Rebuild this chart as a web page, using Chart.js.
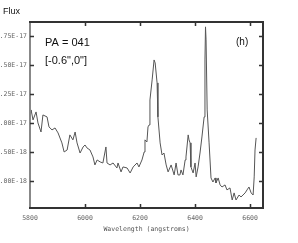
<!DOCTYPE html>
<html>
<head>
<meta charset="utf-8">
<script src="https://cdn.jsdelivr.net/npm/chart.js@4/dist/chart.umd.min.js"></script>
<style>
  html, body { margin: 0; padding: 0; background: #fff; overflow: hidden; }
  #wrap { position: absolute; left: -6px; top: 0; width: 304px; height: 243px; }
</style>
</head>
<body>
<div id="wrap"><canvas id="spec"></canvas></div>
<script>
// Wavelength (angstroms) and flux (in units of 1e-18)
const wavelength = [
  5800, 5804, 5811, 5822, 5829, 5840, 5847, 5862, 5869, 5880,
  5891, 5902, 5916, 5924, 5935, 5945, 5956, 5964, 5971, 5982,
  5993, 6000, 6007, 6018, 6029, 6036, 6044, 6055, 6065, 6076,
  6080, 6091, 6102, 6116, 6120, 6131, 6138, 6153, 6164, 6175,
  6189, 6196, 6207, 6215, 6218, 6225, 6229, 6233, 6236, 6244,
  6251, 6255, 6262, 6265, 6273, 6280, 6287, 6295, 6302, 6313,
  6324, 6331, 6338, 6345, 6349, 6356, 6364, 6367, 6375, 6378,
  6382, 6385, 6393, 6400, 6404, 6411, 6418, 6425, 6433, 6436,
  6438, 6440, 6444, 6451, 6458, 6465, 6473, 6476, 6484, 6491,
  6498, 6509, 6516, 6527, 6535, 6542, 6549, 6560, 6567, 6582,
  6589, 6596, 6604, 6611, 6615, 6618, 6622
];
const flux = [
  10.43, 11.12, 10.26, 10.95, 10.00, 9.22, 10.69, 10.52, 9.66, 9.40,
  9.57, 9.14, 8.28, 7.50, 7.67, 8.97, 8.54, 9.22, 8.28, 7.41,
  7.93, 8.10, 7.85, 7.67, 7.07, 6.38, 6.81, 6.64, 6.55, 7.93,
  6.55, 6.38, 6.55, 6.12, 6.55, 5.78, 6.21, 6.12, 5.69, 6.21,
  6.55, 6.21, 6.81, 7.50, 8.54, 8.36, 9.66, 9.83, 11.98, 13.71,
  15.43, 15.17, 13.45, 10.52, 8.28, 7.24, 7.41, 6.38, 5.78, 6.38,
  5.52, 6.55, 5.52, 5.52, 5.95, 5.52, 6.81, 7.07, 8.97, 8.54,
  8.28, 6.21, 5.69, 6.55, 5.35, 6.21, 7.41, 8.79, 10.52, 15.43,
  18.28, 17.16, 11.12, 8.28, 5.26, 4.91, 5.26, 4.83, 5.26, 4.66,
  4.48, 4.66, 4.23, 4.40, 3.36, 3.97, 3.36, 3.79, 3.62, 3.97,
  4.23, 4.48, 3.97, 3.79, 5.35, 7.67, 8.71
];

const xTicks = [5800, 6000, 6200, 6400, 6600];
const xTickLabels = ['5800', '6000', '6200', '6400', '6600'];
const yTicks = [5, 7.5, 10, 12.5, 15, 17.5];
const yTickLabels = ['5.00E-18', '7.50E-18', '1.00E-17', '1.25E-17', '1.50E-17', '1.75E-17'];

const tickFont = { family: 'DejaVu Sans Mono', size: 6.5 };

// frame, inward ticks and the text labels
const framePlugin = {
  id: 'frame',
  afterDraw(chart) {
    const ctx = chart.ctx;
    const a = chart.chartArea;
    const xs = chart.scales.x, ys = chart.scales.y;
    ctx.save();
    ctx.lineWidth = 2;
    ctx.strokeStyle = '#888';
    ctx.beginPath(); ctx.moveTo(a.left, a.top); ctx.lineTo(a.left, a.bottom); ctx.stroke();
    ctx.strokeStyle = '#333';
    ctx.beginPath();
    ctx.moveTo(a.left - 1, a.top); ctx.lineTo(a.right, a.top); ctx.lineTo(a.right, a.bottom);
    ctx.lineTo(a.left - 1, a.bottom);
    ctx.stroke();

    ctx.lineWidth = 1.5;
    ctx.strokeStyle = '#333';
    xTicks.forEach(v => {
      if (v === xs.min) return;
      const px = Math.round(xs.getPixelForValue(v)) + 0.5;
      ctx.beginPath();
      ctx.moveTo(px, a.top); ctx.lineTo(px, a.top + 4);
      ctx.moveTo(px, a.bottom); ctx.lineTo(px, a.bottom - 4);
      ctx.stroke();
    });
    yTicks.forEach(v => {
      const py = Math.round(ys.getPixelForValue(v)) + 0.5;
      ctx.beginPath();
      ctx.moveTo(a.left, py); ctx.lineTo(a.left + 4, py);
      ctx.moveTo(a.right, py); ctx.lineTo(a.right - 4, py);
      ctx.stroke();
    });

    ctx.fillStyle = '#111';
    ctx.textBaseline = 'middle';
    ctx.textAlign = 'left';
    ctx.font = '9px "Liberation Sans", Arial, sans-serif';
    ctx.fillText('Flux', 9, 12);
    ctx.font = '11px "Liberation Sans", Arial, sans-serif';
    ctx.fillText('PA = 041', a.left + 15, 43);
    ctx.fillText('[-0.6",0"]', a.left + 15, 61);
    ctx.font = '10px "Liberation Sans", Arial, sans-serif';
    ctx.fillText('(h)', a.right - 27, 42);
    ctx.restore();
  }
};

new Chart(document.getElementById('spec'), {
  type: 'line',
  data: {
    datasets: [{
      data: wavelength.map((w, i) => ({ x: w, y: flux[i] })),
      borderColor: '#555',
      borderWidth: 1,
      pointRadius: 0,
      tension: 0,
      fill: false
    }]
  },
  options: {
    responsive: true,
    maintainAspectRatio: false,
    animation: false,
    layout: { padding: { top: 22, right: 35, left: 0, bottom: 0 } },
    plugins: { legend: { display: false }, tooltip: { enabled: false } },
    scales: {
      x: {
        type: 'linear',
        min: 5800,
        max: 6647,
        afterBuildTicks: s => { s.ticks = xTicks.map(v => ({ value: v })); },
        afterFit: s => { s.height = 35; },
        border: { display: false },
        grid: { display: false, drawTicks: false },
        ticks: {
          padding: 6,
          color: '#666',
          font: tickFont,
          maxRotation: 0,
          callback: v => xTickLabels[xTicks.indexOf(v)]
        },
        title: {
          display: true,
          text: 'Wavelength (angstroms)',
          color: '#555',
          font: tickFont,
          padding: { top: 3, bottom: 10 }
        }
      },
      y: {
        min: 2.67,
        max: 18.7,
        afterBuildTicks: s => { s.ticks = yTicks.map(v => ({ value: v })); },
        afterFit: s => { s.width = 36; },
        border: { display: false },
        grid: { display: false, drawTicks: false },
        ticks: {
          padding: 3,
          color: '#666',
          font: tickFont,
          callback: v => yTickLabels[yTicks.indexOf(v)]
        }
      }
    }
  },
  plugins: [framePlugin]
});
</script>
</body>
</html>
